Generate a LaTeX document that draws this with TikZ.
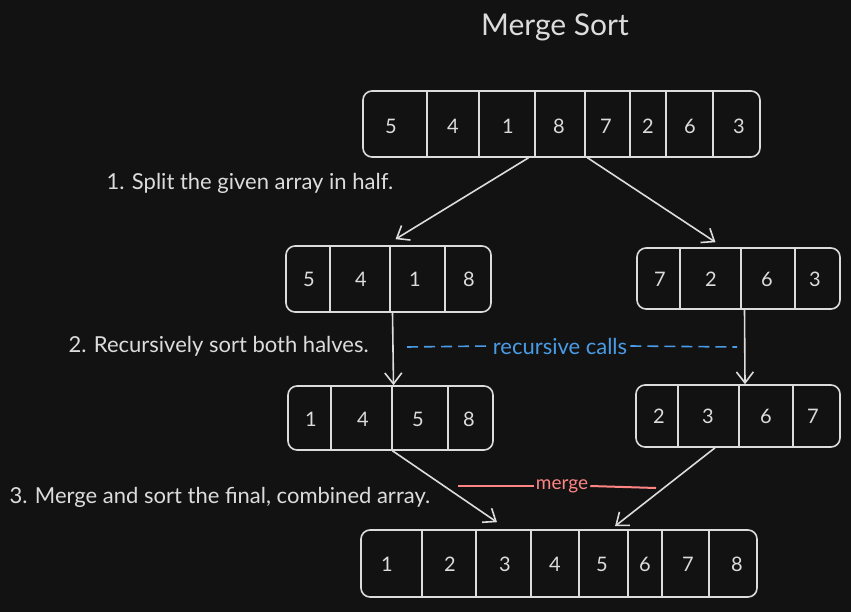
\documentclass[tikz,border=0pt]{standalone}
\usepackage{fontspec}
\setmainfont{Lato}
\usepackage{tikz}
\usetikzlibrary{arrows.meta}
\definecolor{bgDark}{HTML}{121212}
\definecolor{inkLight}{HTML}{DCDCDC}
\definecolor{callBlue}{HTML}{4A9BE6}
\definecolor{mergeRed}{HTML}{FF8585}

\begin{document}
\begin{tikzpicture}[
            x=1pt, y=-1pt,
            array/.style={
                draw=inkLight,
                line width=1.6pt,
                rounded corners=9pt,
                inner sep=0pt
            },
            cell/.style={
                text=inkLight,
                font=\fontsize{20}{22}\selectfont
            },
            divider/.style={
                draw=inkLight,
                line width=1.4pt
            },
            arrow/.style={
                -{Straight Barb[length=11pt,width=17pt]},
                line width=1.6pt,
                draw=inkLight
            },
            note/.style={
                anchor=west,
                text=inkLight,
                font=\fontsize{22}{24}\selectfont
            },
            calldash/.style={
                draw=callBlue,
                line width=1.6pt,
                dash pattern=on 11pt off 6pt
            },
            mergeline/.style={
                draw=mergeRed,
                line width=2pt
            }
        ]
            \fill[bgDark] (0,0) rectangle (851,612);
            \useasboundingbox (0,0) rectangle (851,612);

            \node (title) [text=inkLight, font=\fontsize{30}{32}\selectfont] at (555,27) {Merge Sort};

            % arrays
            \node (full) [array, minimum width=397pt, minimum height=66pt] at (561.5,124) {};
            \node (lhalf) [array, minimum width=205pt, minimum height=66pt] at (388.5,279) {};
            \node (rhalf) [array, minimum width=203pt, minimum height=61pt] at (738.5,278.5) {};
            \node (lsorted) [array, minimum width=205pt, minimum height=64pt] at (390.5,418) {};
            \node (rsorted) [array, minimum width=204pt, minimum height=62pt] at (738,416) {};
            \node (merged) [array, minimum width=396pt, minimum height=67pt] at (559,563.5) {};

            \foreach \x in {427,479,535,585,630,666,713}
                \draw[divider] (\x,0 |- full.north) -- (\x,0 |- full.south);
            \foreach \x in {330,390,445}
                \draw[divider] (\x,0 |- lhalf.north) -- (\x,0 |- lhalf.south);
            \foreach \x in {680,741,795}
                \draw[divider] (\x,0 |- rhalf.north) -- (\x,0 |- rhalf.south);
            \foreach \x in {331,392,448}
                \draw[divider] (\x,0 |- lsorted.north) -- (\x,0 |- lsorted.south);
            \foreach \x in {678,739,793}
                \draw[divider] (\x,0 |- rsorted.north) -- (\x,0 |- rsorted.south);
            \foreach \x in {422,476,531,579,628,662,709}
                \draw[divider] (\x,0 |- merged.north) -- (\x,0 |- merged.south);

            \foreach \x/\v in {391/5,453/4,508/1,559/8,606/7,648/2,690/6,739/3}
                \node (full-\v) [cell] at (\x,126) {\v};
            \foreach \x/\v in {309/5,361/4,415/1,469/8}
                \node (lhalf-\v) [cell] at (\x,279) {\v};
            \foreach \x/\v in {660/7,711/2,767/6,815/3}
                \node (rhalf-\v) [cell] at (\x,279) {\v};
            \foreach \x/\v in {311/1,363/4,418/5,469/8}
                \node (lsorted-\v) [cell] at (\x,419) {\v};
            \foreach \x/\v in {659/2,708/3,766/6,813/7}
                \node (rsorted-\v) [cell] at (\x,416) {\v};
            \foreach \x/\v in {387/1,450/2,505/3,555/4,602/5,645/6,688/7,737/8}
                \node (merged-\v) [cell] at (\x,564) {\v};

            % steps
            \node (split) [note] at (103,183) {1. Split the given array in half.};
            \node (recur) [note] at (65,346) {2. Recursively sort both halves.};
            \node (combine) [note] at (6,497) {3. Merge and sort the final, combined array.};

            \draw[arrow] ([xshift=-33pt]full.south) -- ([xshift=7pt,yshift=6pt]lhalf.north);
            \draw[arrow] ([xshift=26pt]full.south) -- ([xshift=-23pt,yshift=5pt]rhalf.north);
            \draw[arrow] ([xshift=4pt]lhalf.south) -- ([xshift=3pt]lsorted.north);
            \draw[arrow] ([xshift=6pt]rhalf.south) -- ([xshift=7pt]rsorted.north);
            \draw[arrow] ([xshift=2pt]lsorted.south) -- ([xshift=-62pt,yshift=7pt]merged.north);
            \draw[arrow] ([xshift=-23pt]rsorted.south) -- ([xshift=56pt,yshift=3pt]merged.north);

            % recursive calls
            \coordinate (callL) at (407,347);
            \coordinate (callR) at (737,347);
            \node (calls) [text=callBlue, font=\fontsize{22}{24}\selectfont, inner sep=3pt] at (560,346) {recursive calls};
            \draw[calldash] (callL) -- (calls.west);
            \draw[calldash] (calls.east) -- (callR);

            % merge
            \coordinate (mergeL) at (458,486);
            \coordinate (mergeR) at (656,488);
            \node (mergelbl) [text=mergeRed, font=\fontsize{19}{21}\selectfont, inner sep=2pt] at (562,486) {merge};
            \draw[mergeline] (mergeL) -- (mergelbl.west);
            \draw[mergeline] (mergelbl.east) -- (mergeR);
        \end{tikzpicture}
\end{document}
